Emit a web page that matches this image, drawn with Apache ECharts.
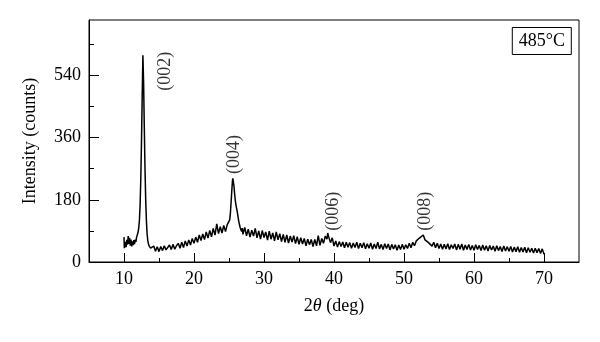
<!DOCTYPE html>
<html>
<head>
<meta charset="utf-8">
<script src="https://cdn.jsdelivr.net/npm/echarts@6/dist/echarts.min.js"></script>
<style>
  html, body { margin: 0; padding: 0; background: #fff; }
  #chart { width: 600px; height: 342px; }
</style>
</head>
<body>
<div id="chart"></div>
<script>
// XRD scan, [2θ, counts]
var lowAngle = [
  [10.0, 72], [10.05, 40], [10.2, 58], [10.3, 43], [10.4, 64], [10.5, 50], [10.6, 75], [10.7, 52],
  [10.8, 70], [10.9, 47], [11.0, 65], [11.1, 45], [11.2, 60], [11.3, 49], [11.4, 63], [11.5, 52],
  [11.6, 65], [11.7, 58], [11.8, 72], [11.9, 75]
];
var peak002 = [
  [12.0, 85], [12.1, 98], [12.2, 120], [12.3, 165], [12.4, 240], [12.5, 350], [12.6, 480], [12.7, 598],
  [12.8, 520], [12.9, 390], [13.0, 270], [13.1, 180], [13.2, 120], [13.3, 82], [13.4, 62], [13.5, 52],
  [13.6, 46], [13.7, 44], [13.8, 40], [13.9, 36]
];
var amorphous = [
  [14.0, 36], [14.25, 46], [14.5, 31], [14.75, 44], [15.0, 30], [15.25, 45], [15.5, 33], [15.75, 47],
  [16.0, 35], [16.25, 31], [16.5, 49], [16.75, 36], [17.0, 51], [17.25, 37], [17.5, 47], [17.75, 54],
  [18.0, 40], [18.25, 57], [18.5, 42], [18.75, 61], [19.0, 46], [19.25, 64], [19.5, 49], [19.75, 68],
  [20.0, 54], [20.25, 72], [20.5, 57], [20.75, 78], [21.0, 62], [21.25, 81], [21.5, 65], [21.75, 87],
  [22.0, 69], [22.25, 91], [22.5, 73], [22.75, 97], [23.0, 78], [23.25, 110], [23.5, 82], [23.75, 102],
  [24.0, 84], [24.25, 106], [24.5, 88], [24.75, 108]
];
var peak004 = [
  [25.0, 110], [25.1, 122], [25.2, 142], [25.3, 172], [25.4, 207], [25.5, 236], [25.55, 242], [25.6, 238],
  [25.7, 222], [25.8, 198], [25.9, 178], [26.0, 164], [26.1, 154], [26.2, 143], [26.3, 130], [26.4, 117],
  [26.5, 108], [26.6, 99], [26.7, 95], [26.8, 88], [26.9, 98]
];
var midAngle = [
  [27.0, 80], [27.25, 100], [27.5, 76], [27.75, 95], [28.0, 72], [28.25, 92], [28.5, 75], [28.75, 97],
  [29.0, 70], [29.25, 90], [29.5, 66], [29.75, 91], [30.0, 71], [30.25, 87], [30.5, 63], [30.75, 89],
  [31.0, 66], [31.25, 84], [31.5, 61], [31.75, 87], [32.0, 64], [32.25, 82], [32.5, 59], [32.75, 80],
  [33.0, 57], [33.25, 78], [33.5, 55], [33.75, 75], [34.0, 58], [34.25, 76], [34.5, 53], [34.75, 73],
  [35.0, 51], [35.25, 70], [35.5, 52], [35.75, 68], [36.0, 47], [36.25, 66], [36.5, 50], [36.75, 65],
  [37.0, 45], [37.25, 65], [37.5, 47], [37.75, 76], [38.0, 48], [38.25, 68], [38.5, 54], [38.75, 75],
  [39.0, 66], [39.1, 84], [39.25, 72], [39.5, 56], [39.75, 70], [40.0, 46], [40.25, 61], [40.5, 43],
  [40.75, 59], [41.0, 45], [41.25, 58], [41.5, 41], [41.75, 57], [42.0, 43], [42.25, 56], [42.5, 40],
  [42.75, 55], [43.0, 42], [43.25, 57], [43.5, 39], [43.75, 54], [44.0, 41], [44.25, 56], [44.5, 38],
  [44.75, 53], [45.0, 40], [45.25, 55], [45.5, 37], [45.75, 52], [46.0, 39], [46.25, 57], [46.5, 38],
  [46.75, 51], [47.0, 36], [47.25, 53], [47.5, 39], [47.75, 52], [48.0, 35], [48.25, 51], [48.5, 38],
  [48.75, 50], [49.0, 34], [49.25, 49], [49.5, 36], [49.75, 51]
];
var highAngle = [
  [50.0, 37], [50.25, 50], [50.5, 39], [50.75, 54], [51.0, 41], [51.25, 57], [51.5, 47], [51.75, 61],
  [52.0, 56], [52.25, 70], [52.5, 66], [52.75, 78], [53.0, 64], [53.25, 69], [53.5, 56], [53.75, 61],
  [54.0, 46], [54.25, 57], [54.5, 41], [54.75, 54], [55.0, 39], [55.25, 52], [55.5, 37], [55.75, 51],
  [56.0, 38], [56.25, 53], [56.5, 36], [56.75, 50], [57.0, 39], [57.25, 52], [57.5, 35], [57.75, 51],
  [58.0, 37], [58.25, 52], [58.5, 34], [58.75, 49], [59.0, 36], [59.25, 51], [59.5, 35], [59.75, 48],
  [60.0, 34], [60.25, 50], [60.5, 36], [60.75, 48], [61.0, 33], [61.25, 49], [61.5, 34], [61.75, 47],
  [62.0, 32], [62.25, 48], [62.5, 35], [62.75, 46], [63.0, 31], [63.25, 47], [63.5, 33], [63.75, 45],
  [64.0, 30], [64.25, 46], [64.5, 32], [64.75, 44], [65.0, 31], [65.25, 45], [65.5, 29], [65.75, 43],
  [66.0, 30], [66.25, 44], [66.5, 28], [66.75, 42], [67.0, 29], [67.25, 43], [67.5, 27], [67.75, 41],
  [68.0, 28], [68.25, 40], [68.5, 26], [68.75, 40], [69.0, 27], [69.25, 39], [69.5, 25], [69.75, 38],
  [70.0, 22]
];

// peak labels (text, 2θ, counts of label centre)
var peakNames = ['(002)', '(004)', '(006)', '(008)'];
var peakLabelAt = [[15.9, 552], [25.7, 311], [39.9, 147], [53.0, 147]];

var xMajor = [10, 20, 30, 40, 50, 60, 70];
var xMinor = [15, 25, 35, 45, 55, 65];
var yMajor = [0, 180, 360, 540];
var yMinor = [90, 270, 450, 630];

var serif = 'Liberation Serif';
var chart = echarts.init(document.getElementById('chart'));

var scan = [].concat(lowAngle, peak002, amorphous, peak004, midAngle, highAngle);
var labelData = peakNames.map(function (n, i) {
  return { name: n, value: peakLabelAt[i] };
});

chart.setOption({
  animation: false,
  title: {
    text: '485°C',
    right: 28,
    top: 27,
    padding: [4, 7, 3, 7],
    borderColor: '#000',
    borderWidth: 1,
    textStyle: { fontFamily: serif, fontSize: 18, fontWeight: 'normal', color: '#000', lineHeight: 21 }
  },
  grid: {
    left: 89, right: 21, top: 20, bottom: 80,
    show: true, borderColor: '#000', borderWidth: 1, backgroundColor: 'transparent'
  },
  xAxis: [
    {
      type: 'value', min: 5, max: 75,
      axisLine: { lineStyle: { color: '#000', width: 1 } },
      axisTick: { inside: true, length: 9, customValues: xMajor, lineStyle: { color: '#000' } },
      axisLabel: { customValues: xMajor, margin: 8, fontFamily: serif, fontSize: 18, color: '#000' },
      splitLine: { show: false },
      name: '2{i|θ} (deg)',
      nameLocation: 'middle',
      nameGap: 35,
      nameTextStyle: {
        fontFamily: serif, fontSize: 18, color: '#000',
        rich: { i: { fontFamily: serif, fontSize: 18, fontStyle: 'italic', color: '#000' } }
      }
    },
    {
      type: 'value', min: 5, max: 75, position: 'bottom',
      axisLine: { show: false },
      axisTick: { inside: true, length: 4, customValues: xMinor, lineStyle: { color: '#000' } },
      axisLabel: { show: false },
      splitLine: { show: false }
    }
  ],
  yAxis: [
    {
      type: 'value', min: 0, max: 700,
      axisLine: { show: true, lineStyle: { color: '#000', width: 1 } },
      axisTick: { show: true, inside: true, length: 10, customValues: yMajor, lineStyle: { color: '#000' } },
      axisLabel: { customValues: yMajor, margin: 8, fontFamily: serif, fontSize: 18, color: '#000' },
      splitLine: { show: false },
      name: 'Intensity (counts)',
      nameLocation: 'middle',
      nameGap: 50,
      nameTextStyle: { fontFamily: serif, fontSize: 18, color: '#000' }
    },
    {
      type: 'value', min: 0, max: 700, position: 'left',
      axisLine: { show: false },
      axisTick: { show: true, inside: true, length: 5, customValues: yMinor, lineStyle: { color: '#000' } },
      axisLabel: { show: false },
      splitLine: { show: false }
    }
  ],
  series: [
    {
      type: 'line',
      data: scan,
      showSymbol: false,
      lineStyle: { color: '#000', width: 1.5 },
      z: 3
    },
    {
      type: 'scatter',
      data: labelData,
      symbolSize: 1,
      itemStyle: { color: 'transparent' },
      label: {
        show: true,
        formatter: '{b}',
        position: 'inside',
        rotate: 90,
        fontFamily: serif,
        fontSize: 18,
        color: '#000'
      },
      silent: true
    }
  ]
});
</script>
</body>
</html>
